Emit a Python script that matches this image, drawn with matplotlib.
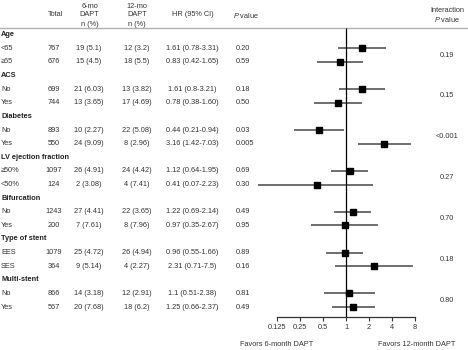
import numpy as np
import matplotlib
matplotlib.use('Agg')
import matplotlib.pyplot as plt

plt.rcParams['font.family'] = ['Liberation Sans', 'DejaVu Sans']
plt.rcParams['mathtext.fontset'] = 'custom'
plt.rcParams['mathtext.it'] = 'Liberation Sans:italic'
plt.rcParams['mathtext.rm'] = 'Liberation Sans'

# ----------------------------------------------------------
# data
# ----------------------------------------------------------
groups = ['Age', 'ACS', 'Diabetes', 'LV ejection fraction', 'Bifurcation',
          'Type of stent', 'Multi-stent']
sub_labels = [['<65', '\u226565'], ['No', 'Yes'], ['No', 'Yes'],
              ['\u226550%', '<50%'], ['No', 'Yes'], ['EES', 'SES'], ['No', 'Yes']]
totals = [767, 676, 699, 744, 893, 550, 1097, 124, 1243, 200, 1079, 364, 866, 567]
six_mo = ['19 (5.1)', '15 (4.5)', '21 (6.03)', '13 (3.65)', '10 (2.27)', '24 (9.09)',
          '26 (4.91)', '2 (3.08)', '27 (4.41)', '7 (7.61)', '25 (4.72)', '9 (5.14)',
          '14 (3.18)', '20 (7.68)']
twelve_mo = ['12 (3.2)', '18 (5.5)', '13 (3.82)', '17 (4.69)', '22 (5.08)', '8 (2.96)',
             '24 (4.42)', '4 (7.41)', '22 (3.65)', '8 (7.96)', '26 (4.94)', '4 (2.27)',
             '12 (2.91)', '18 (6.2)']
hr = [1.61, 0.83, 1.61, 0.78, 0.44, 3.16, 1.12, 0.41, 1.22, 0.97, 0.96, 2.31, 1.1, 1.25]
lo = [0.78, 0.42, 0.8, 0.38, 0.21, 1.42, 0.64, 0.07, 0.69, 0.35, 0.55, 0.71, 0.51, 0.66]
hi = [3.31, 1.65, 3.21, 1.60, 0.94, 7.03, 1.95, 2.23, 2.14, 2.67, 1.66, 7.5, 2.38, 2.37]
hr_text = ['1.61 (0.78-3.31)', '0.83 (0.42-1.65)', '1.61 (0.8-3.21)', '0.78 (0.38-1.60)',
           '0.44 (0.21-0.94)', '3.16 (1.42-7.03)', '1.12 (0.64-1.95)', '0.41 (0.07-2.23)',
           '1.22 (0.69-2.14)', '0.97 (0.35-2.67)', '0.96 (0.55-1.66)', '2.31 (0.71-7.5)',
           '1.1 (0.51-2.38)', '1.25 (0.66-2.37)']
p_values = ['0.20', '0.59', '0.18', '0.50', '0.03', '0.005', '0.69', '0.30', '0.49',
            '0.95', '0.89', '0.16', '0.81', '0.49']
p_inter = ['0.19', '0.15', '<0.001', '0.27', '0.70', '0.18', '0.80']
ticks = [0.125, 0.25, 0.5, 1, 2, 4, 8]
tick_labels = ['0.125', '0.25', '0.5', '1', '2', '4', '8']

# ----------------------------------------------------------
# layout
# ----------------------------------------------------------
W, H = 468, 350
row0, drow = 34.7, 13.62
fs = 5.3
tc = '#333333'
lab_x = 1
inter_x = 447


def row_px(i):
    return row0 + drow * i


def row_at(px):
    return (px - row0) / drow


fig = plt.figure(figsize=(W / 100, H / 100), dpi=100)
bg = fig.add_axes([0, 0, 1, 1])
bg.set_xlim(0, W)
bg.set_ylim(H, 0)
bg.axis('off')

# header
bg.text(55, 15, 'Total', ha='center', va='center', fontsize=fs, color=tc)
for xc, top in [(89.5, '6-mo'), (137, '12-mo')]:
    bg.text(xc, 6, top, ha='center', va='center', fontsize=fs, color=tc)
    bg.text(xc, 15, 'DAPT', ha='center', va='center', fontsize=fs, color=tc)
    bg.text(xc, 24, 'n (%)', ha='center', va='center', fontsize=fs, color=tc)
bg.text(193, 15, 'HR (95% CI)', ha='center', va='center', fontsize=fs, color=tc)
bg.text(233, 15, '$P$ value', ha='left', va='center', fontsize=fs, color=tc)
bg.text(inter_x, 10, 'Interaction', ha='center', va='center', fontsize=fs, color=tc)
bg.text(inter_x, 19, '$P$ value', ha='center', va='center', fontsize=fs, color=tc)
bg.plot([0, W], [28, 28], color='#b0b0b0', lw=1.0)

# table rows
r = 0
k = 0
for gi, (g, subs) in enumerate(zip(groups, sub_labels)):
    bg.text(lab_x, row_px(r), g, ha='left', va='center', fontsize=fs,
            fontweight='bold', color='#222222')
    r += 1
    for s in subs:
        y = row_px(r)
        bg.text(lab_x, y, s, ha='left', va='center', fontsize=fs, color=tc)
        bg.text(54, y, str(totals[k]), ha='center', va='center', fontsize=fs, color=tc)
        bg.text(89, y, six_mo[k], ha='center', va='center', fontsize=fs, color=tc)
        bg.text(137, y, twelve_mo[k], ha='center', va='center', fontsize=fs, color=tc)
        bg.text(192, y, hr_text[k], ha='center', va='center', fontsize=fs, color=tc)
        bg.text(236, y, p_values[k], ha='left', va='center', fontsize=fs, color=tc)
        r += 1
        k += 1
    bg.text(inter_x, (row_px(r - 2) + row_px(r - 1)) / 2, p_inter[gi],
            ha='center', va='center', fontsize=fs, color=tc)

bg.text(240, 344, 'Favors 6-month DAPT', ha='left', va='center', fontsize=fs, color=tc)
bg.text(378, 344, 'Favors 12-month DAPT', ha='left', va='center', fontsize=fs, color=tc)

# ----------------------------------------------------------
# forest plot
# ----------------------------------------------------------
px_per = 22.93
x_one = 346.0
ax_l, ax_r = 240.0, 440.0
ax = fig.add_axes([ax_l / W, 0, (ax_r - ax_l) / W, 1])
ax.patch.set_alpha(0)
ax.set_xscale('log', base=2)
ax.set_xlim(2 ** ((ax_l - x_one) / px_per), 2 ** ((ax_r - x_one) / px_per))
ax.set_ylim(row_at(H), row_at(0))

rows = []
r = 0
for subs in sub_labels:
    r += 1
    for s in subs:
        rows.append(r)
        r += 1
rows = np.array(rows)

ax.hlines(rows, lo, hi, color='#555555', lw=1.2)
ax.plot(hr, rows, 's', color='black', ms=4.3)
ax.vlines(1, row_at(28), row_at(317.3), color='black', lw=0.9)

for sp in ['top', 'right', 'left']:
    ax.spines[sp].set_visible(False)
ax.spines['bottom'].set_position(('data', row_at(317.3)))
ax.spines['bottom'].set_bounds(0.125, 8)
ax.spines['bottom'].set_color('#333333')
ax.spines['bottom'].set_linewidth(0.9)
ax.set_xticks(ticks)
ax.set_xticklabels(tick_labels)
ax.minorticks_off()
ax.tick_params(axis='x', which='major', length=3, width=0.8, color='#333333',
               labelsize=fs, labelcolor=tc, pad=2)
ax.set_yticks([])

fig.savefig('out.png', dpi=100)
